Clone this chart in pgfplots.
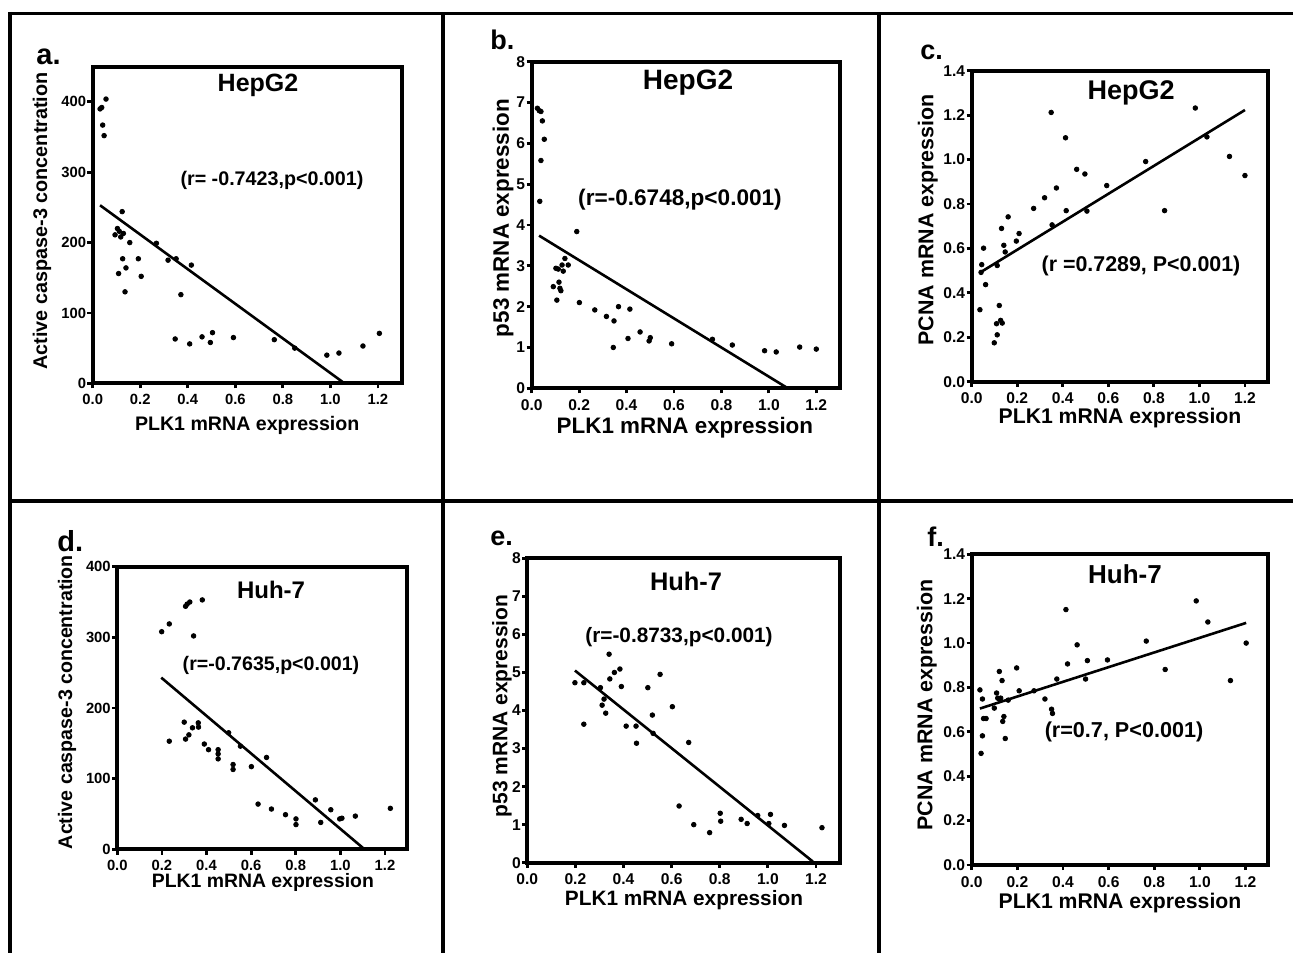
\documentclass[border=0pt]{standalone}
\usepackage{fontspec}
\setmainfont{Liberation Sans}
\usepackage{pgfplots}
\pgfplotsset{compat=1.18}

\newcommand{\tickfont}{\bfseries\fontsize{7.8}{9}\selectfont}
\newcommand{\smalltickfont}{\bfseries\fontsize{7.4}{9}\selectfont}

\pgfplotsset{
  prism/.style={
    scale only axis, clip=false,
    axis line style={line width=1.9pt},
    tick align=outside, tick pos=left,
    major tick length=2.6pt,
    major tick style={line width=1.4pt, black},
    xmin=0, xmax=1.3, ymin=0,
    xtick={0,0.2,0.4,0.6,0.8,1.0,1.2},
    xticklabels={0.0,0.2,0.4,0.6,0.8,1.0,1.2},
    yticklabel style={font=\tickfont, inner xsep=0.5pt, inner ysep=0pt},
    xticklabel style={font=\tickfont, inner ysep=2.8pt},
  },
  dots/.style={only marks, mark=*, mark size=1.15pt, black},
  fit/.style={black, line width=1.3pt, no marks},
  casp/.style={ytick={0,100,200,300,400}, yticklabels={0,100,200,300,400},
    yticklabel style={font=\smalltickfont},
    xticklabel style={font=\smalltickfont}},
  pfs/.style={ymax=8, ytick={0,1,2,3,4,5,6,7,8}, yticklabels={0,1,2,3,4,5,6,7,8}},
  pcna/.style={ymax=1.4, ytick={0,0.2,0.4,0.6,0.8,1.0,1.2,1.4},
    yticklabels={0.0,0.2,0.4,0.6,0.8,1.0,1.2,1.4}},
}
\tikzset{
  letter/.style={anchor=base west, inner sep=0, font=\bfseries\fontsize{14.5}{16}\selectfont},
}

\begin{document}
\begin{tikzpicture}
\path[use as bounding box] (0pt,0pt) rectangle (646.5pt,476.5pt);

% frame of the figure
\draw[line width=1.6pt] (4pt,469.75pt) -- (646.5pt,469.75pt);
\draw[line width=2pt] (5pt,470.5pt) -- (5pt,0pt);
\draw[line width=2pt] (221.65pt,470pt) -- (221.65pt,0pt);
\draw[line width=2pt] (439.65pt,470pt) -- (439.65pt,0pt);
\draw[line width=2pt] (5pt,226pt) -- (646.5pt,226pt);

% a. HepG2 caspase-3
\begin{axis}[prism, casp, at={(46.35pt,284.85pt)}, anchor=south west,
  width=154.5pt, height=158.3pt, ymax=450,
  xlabel={PLK1 mRNA expression}, ylabel={Active caspase-3 concentration},
  xlabel style={at={(rel axis cs:0.5,-0.132)}, anchor=center, font=\bfseries\fontsize{9.8}{11}\selectfont},
  ylabel style={at={(rel axis cs:-0.164,0.513)}, anchor=center, font=\bfseries\fontsize{9.9}{11}\selectfont}]
\addplot[dots] coordinates {
 (0.056,404)(0.038,392)(0.031,390)(0.042,367)(0.048,352)(0.124,244)(0.104,220)
 (0.112,216)(0.094,211)(0.129,213)(0.118,208)(0.156,200)(0.268,199)(0.126,177)
 (0.192,177)(0.317,175)(0.351,177)(0.415,168)(0.140,164)(0.109,156)(0.204,152)
 (0.136,130)(0.371,126)(0.347,63)(0.408,56)(0.46,66)(0.504,72)(0.495,58)
 (0.592,65)(0.764,62)(0.85,50)(0.985,40)(1.036,43)(1.137,53)(1.206,71)};
\addplot[fit] coordinates {(0.031,253)(1.051,2)};
\end{axis}

% b. HepG2 p53
\begin{axis}[prism, pfs, at={(265.85pt,282.35pt)}, anchor=south west,
  width=154.15pt, height=163.3pt,
  xlabel={PLK1 mRNA expression}, ylabel={p53 mRNA expression},
  xlabel style={at={(rel axis cs:0.497,-0.122)}, anchor=center, font=\bfseries\fontsize{11.2}{13}\selectfont},
  ylabel style={at={(rel axis cs:-0.093,0.521)}, anchor=center, font=\bfseries\fontsize{11.2}{13}\selectfont}]
\addplot[dots] coordinates {
 (0.024,6.86)(0.032,6.8)(0.039,6.78)(0.045,6.55)(0.053,6.1)(0.039,5.58)(0.034,4.58)
 (0.19,3.84)(0.14,3.18)(0.154,3.02)(0.102,2.94)(0.112,2.92)(0.128,3.02)(0.133,2.87)
 (0.115,2.6)(0.091,2.49)(0.119,2.45)(0.123,2.39)(0.106,2.16)(0.201,2.1)(0.266,1.92)
 (0.366,2.0)(0.414,1.94)(0.315,1.76)(0.347,1.65)(0.457,1.38)(0.406,1.22)(0.5,1.24)
 (0.495,1.16)(0.344,1.0)(0.59,1.09)(0.762,1.2)(0.846,1.06)(0.982,0.92)(1.031,0.89)
 (1.13,1.01)(1.2,0.96)};
\addplot[fit] coordinates {(0.031,3.74)(1.08,0)};
\end{axis}

% c. HepG2 PCNA
\begin{axis}[prism, pcna, at={(485.85pt,285.65pt)}, anchor=south west,
  width=148pt, height=155.5pt,
  xlabel={PLK1 mRNA expression}, ylabel={PCNA mRNA expression},
  xlabel style={at={(rel axis cs:0.501,-0.117)}, anchor=center, font=\bfseries\fontsize{10.6}{12}\selectfont},
  ylabel style={at={(rel axis cs:-0.148,0.52)}, anchor=center, font=\bfseries\fontsize{10.7}{12}\selectfont}]
\addplot[dots] coordinates {
 (0.036,0.324)(0.044,0.527)(0.041,0.492)(0.052,0.601)(0.061,0.437)(0.099,0.175)
 (0.112,0.211)(0.109,0.261)(0.127,0.276)(0.134,0.264)(0.121,0.343)(0.112,0.523)
 (0.131,0.69)(0.141,0.614)(0.147,0.584)(0.16,0.742)(0.196,0.633)(0.208,0.667)
 (0.272,0.78)(0.32,0.828)(0.349,1.212)(0.353,0.706)(0.372,0.872)(0.412,1.098)
 (0.415,0.77)(0.461,0.956)(0.497,0.935)(0.506,0.768)(0.593,0.883)(0.764,0.991)
 (0.847,0.77)(0.982,1.232)(1.033,1.102)(1.132,1.014)(1.2,0.928)};
\addplot[fit] coordinates {(0.041,0.494)(1.2,1.223)};
\end{axis}

% d. Huh-7 caspase-3
\begin{axis}[prism, casp, at={(58.65pt,51.85pt)}, anchor=south west,
  width=145pt, height=141.3pt, ymax=400,
  xlabel={PLK1 mRNA expression}, ylabel={Active caspase-3 concentration},
  xlabel style={at={(rel axis cs:0.502,-0.119)}, anchor=center, font=\bfseries\fontsize{9.7}{11}\selectfont},
  ylabel style={at={(rel axis cs:-0.173,0.521)}, anchor=center, font=\bfseries\fontsize{9.8}{11}\selectfont}]
\addplot[dots] coordinates {
 (0.199,308)(0.233,319)(0.306,344)(0.313,347)(0.325,350)(0.381,353)(0.342,302)
 (0.233,153)(0.3,180)(0.306,156)(0.321,162)(0.337,172)(0.363,179)(0.364,173)
 (0.39,149)(0.409,141)(0.452,141)(0.452,135)(0.452,128)(0.499,165)(0.519,120)
 (0.519,113)(0.552,146)(0.601,117)(0.669,130)(0.631,64)(0.691,57)(0.754,49)
 (0.801,43)(0.801,35)(0.888,70)(0.912,38)(0.957,56)(0.997,43)(1.007,44)
 (1.067,47)(1.224,58)};
\addplot[fit] coordinates {(0.197,243)(1.101,2)};
\end{axis}

% e. Huh-7 p53
\begin{axis}[prism, pfs, at={(263.65pt,45.15pt)}, anchor=south west,
  width=156.35pt, height=152.2pt,
  xlabel={PLK1 mRNA expression}, ylabel={p53 mRNA expression},
  xlabel style={at={(rel axis cs:0.501,-0.123)}, anchor=center, font=\bfseries\fontsize{10.4}{12}\selectfont},
  ylabel style={at={(rel axis cs:-0.081,0.515)}, anchor=center, font=\bfseries\fontsize{10.5}{12}\selectfont}]
\addplot[dots] coordinates {
 (0.198,4.73)(0.235,4.73)(0.235,3.64)(0.304,4.6)(0.311,4.14)(0.319,4.3)(0.326,3.93)
 (0.34,5.48)(0.343,4.83)(0.362,5.0)(0.385,5.09)(0.391,4.63)(0.411,3.59)(0.452,3.59)
 (0.454,3.14)(0.501,4.6)(0.52,3.88)(0.523,3.4)(0.552,4.95)(0.603,4.1)(0.671,3.16)
 (0.631,1.49)(0.692,1.0)(0.758,0.79)(0.802,1.3)(0.804,1.09)(0.889,1.14)(0.914,1.03)
 (0.958,1.24)(1.011,1.27)(1.004,1.03)(1.069,0.98)(1.225,0.92)};
\addplot[fit] coordinates {(0.198,5.05)(1.187,0.03)};
\end{axis}

% f. Huh-7 PCNA
\begin{axis}[prism, pcna, at={(485.85pt,44pt)}, anchor=south west,
  width=148.3pt, height=155.35pt,
  xlabel={PLK1 mRNA expression}, ylabel={PCNA mRNA expression},
  xlabel style={at={(rel axis cs:0.5,-0.122)}, anchor=center, font=\bfseries\fontsize{10.6}{12}\selectfont},
  ylabel style={at={(rel axis cs:-0.151,0.515)}, anchor=center, font=\bfseries\fontsize{10.7}{12}\selectfont}]
\addplot[dots] coordinates {
 (0.036,0.789)(0.047,0.748)(0.052,0.66)(0.063,0.66)(0.047,0.582)(0.041,0.503)
 (0.099,0.707)(0.109,0.775)(0.114,0.752)(0.12,0.748)(0.127,0.752)(0.121,0.872)
 (0.133,0.831)(0.141,0.669)(0.136,0.647)(0.147,0.57)(0.16,0.743)(0.197,0.888)
 (0.208,0.785)(0.273,0.785)(0.321,0.748)(0.35,0.702)(0.354,0.683)(0.373,0.838)
 (0.413,1.151)(0.42,0.906)(0.462,0.992)(0.499,0.838)(0.507,0.921)(0.595,0.924)
 (0.765,1.009)(0.848,0.881)(0.984,1.19)(1.035,1.095)(1.134,0.831)(1.203,1.0)};
\addplot[fit] coordinates {(0.036,0.705)(1.203,1.091)};
\end{axis}

% panel letters
\node[letter] at (18pt,444pt) {a.};
\node[letter, font=\bfseries\fontsize{13.5}{16}\selectfont] at (245pt,451.5pt) {b.};
\node[letter, font=\bfseries\fontsize{13.5}{16}\selectfont] at (460pt,446.5pt) {c.};
\node[letter] at (28.5pt,200.5pt) {d.};
\node[letter, font=\bfseries\fontsize{13.5}{16}\selectfont] at (245pt,204pt) {e.};
\node[letter, font=\bfseries\fontsize{13.5}{16}\selectfont] at (463.5pt,203pt) {f.};

% titles
\node[anchor=base, inner sep=0, font=\bfseries\fontsize{12.5}{14}\selectfont] at (129pt,430.5pt) {HepG2};
\node[anchor=base, inner sep=0, font=\bfseries\fontsize{14}{16}\selectfont] at (344pt,431.5pt) {HepG2};
\node[anchor=base, inner sep=0, font=\bfseries\fontsize{13.5}{15}\selectfont] at (565.5pt,426.5pt) {HepG2};
\node[anchor=base, inner sep=0, font=\bfseries\fontsize{12}{14}\selectfont] at (135.5pt,177.5pt) {Huh-7};
\node[anchor=base, inner sep=0, font=\bfseries\fontsize{12.7}{14}\selectfont] at (343pt,181.5pt) {Huh-7};
\node[anchor=base, inner sep=0, font=\bfseries\fontsize{13}{15}\selectfont] at (562.5pt,185pt) {Huh-7};

% correlation notes
\node[inner sep=0, font=\bfseries\fontsize{9.85}{11}\selectfont] at (136pt,386.5pt) {(r= -0.7423,p<0.001)};
\node[inner sep=0, font=\bfseries\fontsize{11.3}{13}\selectfont] at (340pt,376.5pt) {(r=-0.6748,p<0.001)};
\node[inner sep=0, font=\bfseries\fontsize{10.7}{12}\selectfont] at (570.5pt,343.5pt) {(r =0.7289, P<0.001)};
\node[inner sep=0, font=\bfseries\fontsize{9.8}{11}\selectfont] at (135.5pt,144pt) {(r=-0.7635,p<0.001)};
\node[inner sep=0, font=\bfseries\fontsize{10.4}{12}\selectfont] at (339.5pt,158pt) {(r=-0.8733,p<0.001)};
\node[inner sep=0, font=\bfseries\fontsize{10.8}{12}\selectfont] at (562pt,110.5pt) {(r=0.7, P<0.001)};
\end{tikzpicture}
\end{document}
